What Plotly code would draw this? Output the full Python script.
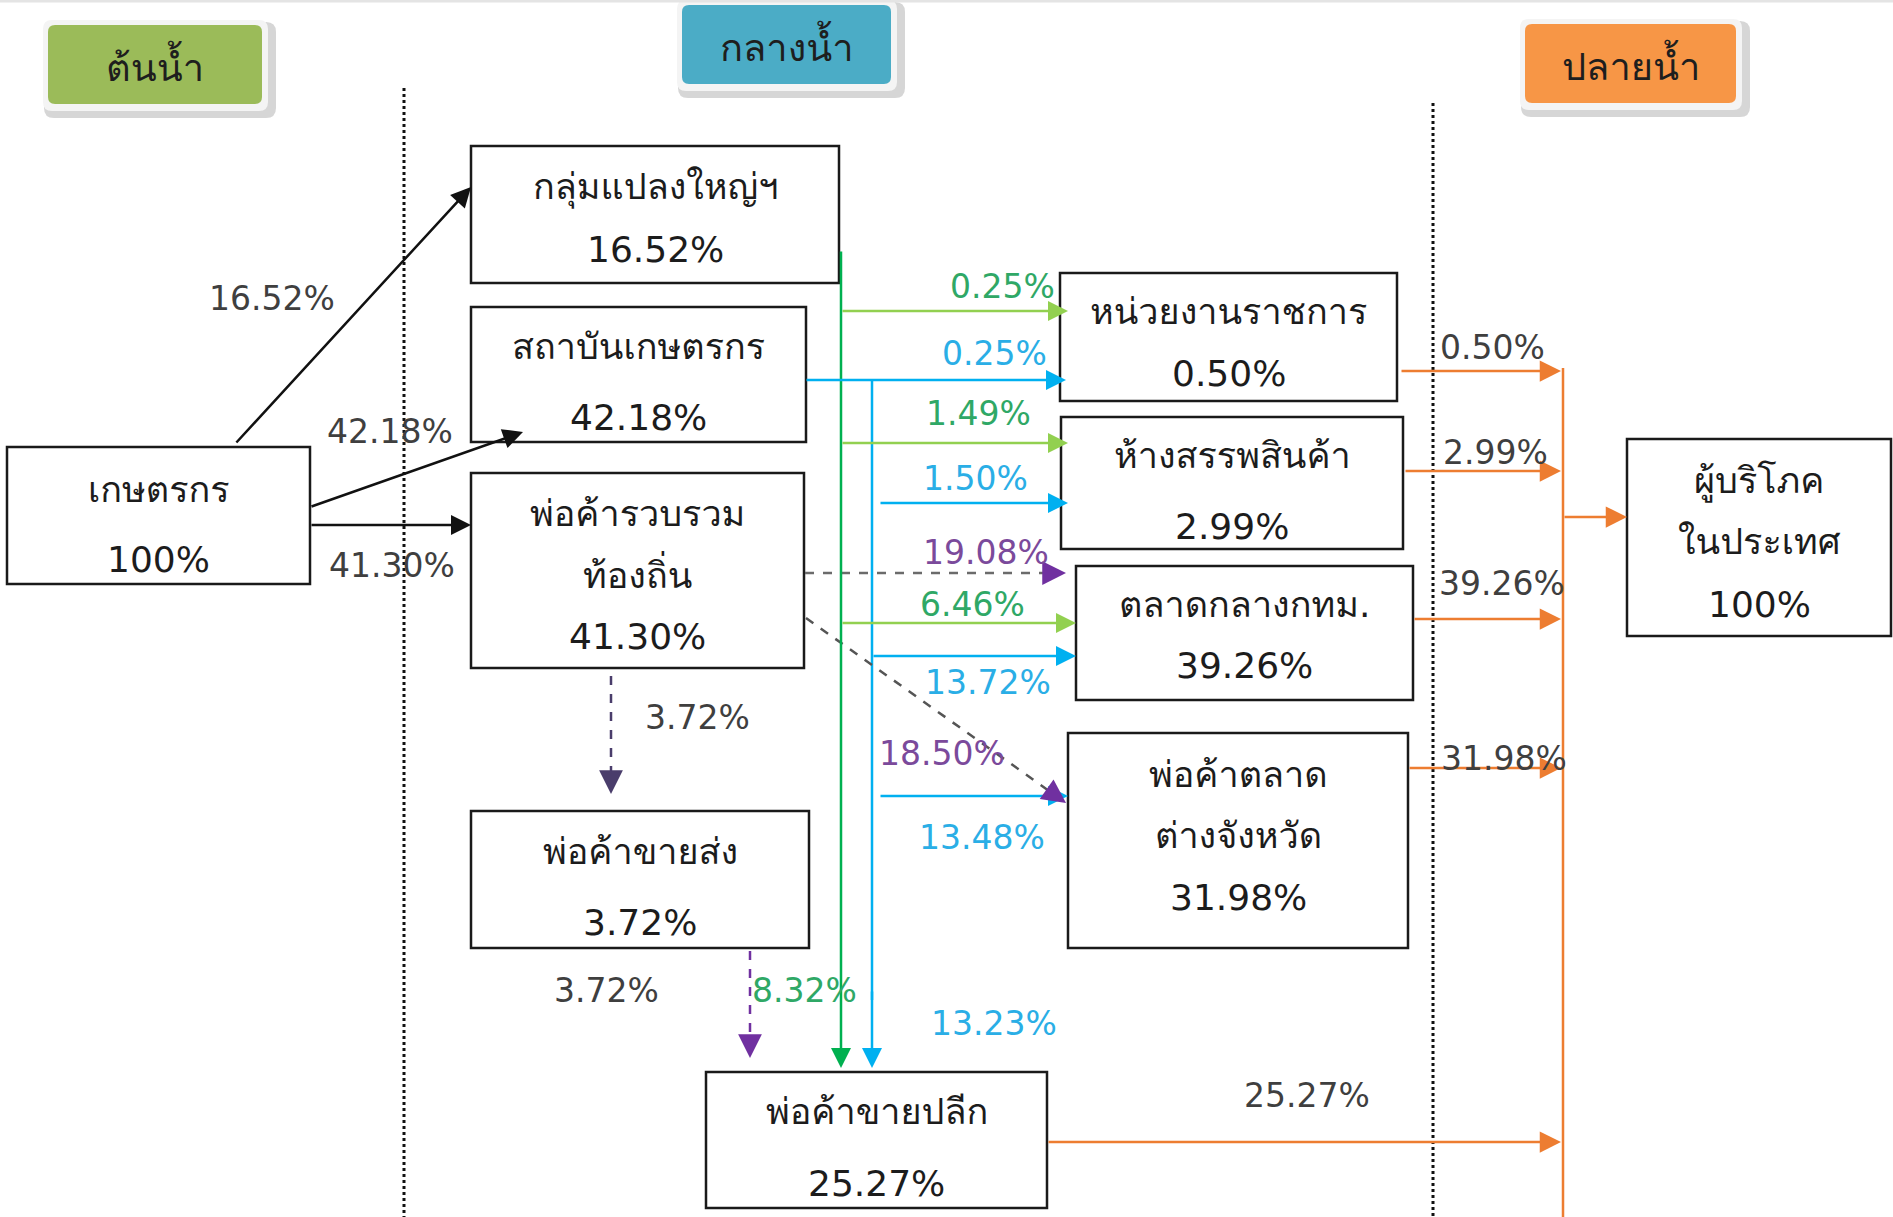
import plotly.graph_objects as go

# ---------------- data ----------------
stage_titles = ["ต้นน้ำ", "กลางน้ำ", "ปลายน้ำ"]

node_names = ["เกษตรกร", "กลุ่มแปลงใหญ่ฯ", "สถาบันเกษตรกร", "พ่อค้ารวบรวม\nท้องถิ่น",
              "พ่อค้าขายส่ง", "พ่อค้าขายปลีก", "หน่วยงานราชการ", "ห้างสรรพสินค้า",
              "ตลาดกลางกทม.", "พ่อค้าตลาด\nต่างจังหวัด", "ผู้บริโภค\nในประเทศ"]
node_share = [100, 16.52, 42.18, 41.30, 3.72, 25.27, 0.50, 2.99, 39.26, 31.98, 100]

# flows out of each source (percent of total volume)
farmer_out = [16.52, 42.18, 41.30]                  # -> กลุ่มแปลงใหญ่, สถาบัน, พ่อค้ารวบรวม
bigplot_out = [0.25, 1.49, 6.46, 8.32]              # green: ราชการ, ห้าง, ตลาดกลาง, ขายปลีก
institute_out = [0.25, 1.50, 13.72, 13.48, 13.23]   # cyan: ราชการ, ห้าง, ตลาดกลาง, ต่างจังหวัด, ขายปลีก
collector_out = [19.08, 18.50, 3.72]                # purple: ตลาดกลาง, ต่างจังหวัด, ขายส่ง
wholesale_out = [3.72]                              # -> ขายปลีก
to_consumer = [0.50, 2.99, 39.26, 31.98, 25.27]     # orange: ราชการ, ห้าง, ตลาดกลาง, ต่างจังหวัด, ขายปลีก

# ---------------- layout geometry (pixels) ----------------
W, H = 1893, 1217
FONT = "'DejaVu Sans', Loma, Garuda, Tahoma, 'Noto Sans Thai', sans-serif"

node_box = [(7, 447, 310, 584), (471, 146, 839, 283), (471, 307, 806, 442), (471, 473, 804, 668),
            (471, 811, 809, 948), (706, 1072, 1047, 1208), (1060, 273, 1397, 401), (1061, 417, 1403, 549),
            (1076, 566, 1413, 700), (1068, 733, 1408, 948), (1627, 439, 1891, 636)]
node_text_y = [[489, 559], [187, 249], [346, 417], [513, 573, 636], [851, 922], [1111, 1183],
               [311, 373], [455, 526], [604, 665], [774, 835, 897], [481, 541, 604]]

stage_box = [(48, 25, 262, 104), (682, 5, 891, 84), (1525, 24, 1736, 103)]
stage_color = ["#9BBB59", "#4BACC6", "#F79646"]

GREEN_V, GREEN_H, CYAN, PURPLE, GREY_D, ORANGE = "#00B050", "#92D050", "#00B0F0", "#7030A0", "#6b6b6b", "#ED7D31"
LBL_GREEN, LBL_CYAN, LBL_PURPLE, LBL_GREY = "#2FA866", "#2AAEE6", "#7B4A9B", "#3f3f3f"
LW = 2.5

fig = go.Figure()
fig.add_trace(go.Scatter(x=[0, W], y=[0, H], mode="markers", marker=dict(opacity=0), hoverinfo="skip",
                         showlegend=False))


def fmt(v):
    return f"{v:.0f}%" if v == 100 else f"{v:.2f}%"


def rrect(x0, y0, x1, y1, r):
    return (f"M{x0+r},{y0} L{x1-r},{y0} Q{x1},{y0} {x1},{y0+r} L{x1},{y1-r} Q{x1},{y1} {x1-r},{y1} "
            f"L{x0+r},{y1} Q{x0},{y1} {x0},{y1-r} L{x0},{y0+r} Q{x0},{y0} {x0+r},{y0} Z")


def line(x0, y0, x1, y1, color, width=LW, dash="solid"):
    fig.add_shape(type="line", x0=x0, y0=y0, x1=x1, y1=y1, layer="above",
                  line=dict(color=color, width=width, dash=dash))


def arrow(x0, y0, x1, y1, color, width=LW, size=1.6):
    fig.add_annotation(x=x1, y=y1, ax=x0, ay=y0, xref="x", yref="y", axref="x", ayref="y", text="",
                       showarrow=True, arrowhead=2, arrowsize=size, arrowwidth=width, arrowcolor=color)


def dashed_arrow(x0, y0, x1, y1, color, head, width=LW):
    L = ((x1 - x0) ** 2 + (y1 - y0) ** 2) ** 0.5
    hx, hy = x1 - (x1 - x0) / L * 22, y1 - (y1 - y0) / L * 22
    line(x0, y0, hx, hy, color, width, "dash")
    arrow(hx, hy, x1, y1, head, width, 1.9)


def label(x, y, v, color, size=33):
    fig.add_annotation(x=x, y=y, text=fmt(v), showarrow=False, font=dict(family=FONT, size=size, color=color))


# stage headers
for (x0, y0, x1, y1), c, t in zip(stage_box, stage_color, stage_titles):
    fig.add_shape(type="path", path=rrect(x0 - 4, y0 - 3, x1 + 14, y1 + 14, 10), fillcolor="#d6d6d6",
                  line=dict(width=0), layer="below")
    fig.add_shape(type="path", path=rrect(x0 - 5, y0 - 5, x1 + 6, y1 + 7, 9), fillcolor="#f4f4f4",
                  line=dict(width=0), layer="below")
    fig.add_shape(type="path", path=rrect(x0, y0, x1, y1, 7), fillcolor=c, line=dict(width=0), layer="below")
    fig.add_annotation(x=(x0 + x1) / 2, y=(y0 + y1) / 2, text=t, showarrow=False,
                       font=dict(family=FONT, size=38, color="#1e1e1e"))

# stage separators
line(404, 88, 404, H, "#111111", 3, "dot")
line(1433, 103, 1433, H, "#111111", 3, "dot")

# nodes
for (x0, y0, x1, y1), name, v, ys in zip(node_box, node_names, node_share, node_text_y):
    fig.add_shape(type="rect", x0=x0, y0=y0, x1=x1, y1=y1, fillcolor="white",
                  line=dict(color="#1a1a1a", width=2.5), layer="below")
    lines = name.split("\n") + [fmt(v)]
    for t, y in zip(lines, ys):
        fig.add_annotation(x=(x0 + x1) / 2, y=y, text=t, showarrow=False,
                           font=dict(family=FONT, size=36, color="#1c1c1c"))

# farmer -> middle
arrow(235, 444, 471, 187, "#111111")
arrow(310, 507, 523, 432, "#111111")
arrow(310, 525, 471, 525, "#111111")
for (x, y), v in zip([(272, 298), (390, 431), (392, 565)], farmer_out):
    label(x, y, v, LBL_GREY)

# big plot group (green)
arrow(841, 250, 841, 1068, GREEN_V)
for (y, x1), v, (lx, ly) in zip([(311, 1068), (443, 1068), (623, 1076)], bigplot_out[:3],
                                [(1002, 286), (978, 413), (972, 604)]):
    arrow(841, y, x1, y, GREEN_H)
    label(lx, ly, v, LBL_GREEN)
label(804, 990, bigplot_out[3], LBL_GREEN)

# farmer institute (cyan)
arrow(805, 380, 1066, 380, CYAN)
line(872, 380, 872, 1000, CYAN)
arrow(872, 990, 872, 1068, CYAN)
arrow(879, 503, 1068, 503, CYAN)
arrow(872, 656, 1076, 656, CYAN)
arrow(879, 796, 1068, 796, CYAN)
for (x, y), v in zip([(994, 353), (975, 478), (988, 682), (982, 837), (994, 1023)], institute_out):
    label(x, y, v, LBL_CYAN)

# local collector (purple, dashed)
dashed_arrow(805, 573, 1066, 573, GREY_D, PURPLE)
dashed_arrow(806, 618, 1066, 803, "#555555", PURPLE)
dashed_arrow(611, 676, 611, 794, "#4a3d6b", "#4a3d6b")
for (x, y), v in zip([(986, 552), (942, 753)], collector_out[:2]):
    label(x, y, v, LBL_PURPLE)
label(697, 717, collector_out[2], LBL_GREY)

# wholesale -> retail
dashed_arrow(750, 951, 750, 1058, PURPLE, PURPLE)
label(606, 990, wholesale_out[0], LBL_GREY)

# downstream -> consumer (orange)
line(1563, 368, 1563, H, ORANGE)
for (x0, y), v, (lx, ly) in zip([(1400, 371), (1404, 471), (1413, 619), (1408, 768), (1047, 1142)], to_consumer,
                                [(1492, 347), (1495, 452), (1502, 583), (1504, 758), (1307, 1095)]):
    arrow(x0, y, 1561, y, ORANGE, LW, 1.7)
    label(lx, ly, v, LBL_GREY)
arrow(1563, 517, 1627, 517, ORANGE, LW, 1.7)

fig.add_shape(type="line", x0=0, y0=1, x1=W, y1=1, line=dict(color="#e4e4e4", width=3), layer="below")

fig.update_xaxes(range=[0, W], visible=False, fixedrange=True)
fig.update_yaxes(range=[H, 0], visible=False, fixedrange=True)
fig.update_layout(width=W, height=H, autosize=False, margin=dict(l=0, r=0, t=0, b=0),
                  plot_bgcolor="white", paper_bgcolor="white", showlegend=False)

fig.write_html("out.html", config={"displayModeBar": False},
               post_script="document.body.style.margin='0';")
